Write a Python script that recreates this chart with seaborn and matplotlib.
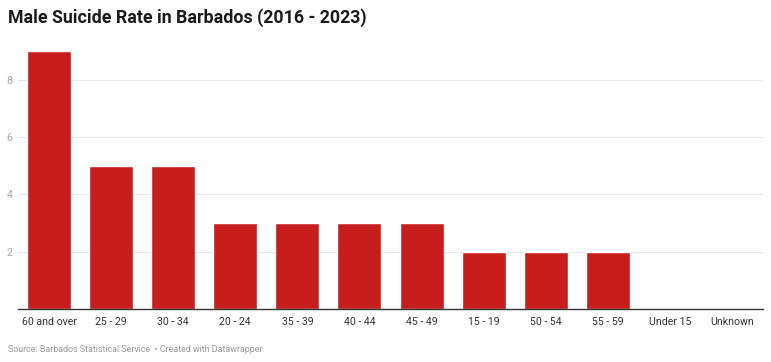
import matplotlib
matplotlib.use('Agg')
import matplotlib.pyplot as plt
import pandas as pd
import seaborn as sns

categories = ['60 and over', '25 - 29', '30 - 34', '20 - 24', '35 - 39', '40 - 44',
              '45 - 49', '15 - 19', '50 - 54', '55 - 59', 'Under 15', 'Unknown']
values = [9, 5, 5, 3, 3, 3, 3, 2, 2, 2, 0, 0]

df = pd.DataFrame({'age': categories, 'count': values})

sns.set_theme(style='white')
plt.rcParams['font.family'] = ['Roboto', 'DejaVu Sans']

fig = plt.figure(figsize=(7.71, 3.62), dpi=100)
ax = fig.add_axes([18 / 771, 1 - 309 / 362, 745 / 771, 258 / 362])

sns.barplot(data=df, x='age', y='count', color='#c71e1d', saturation=1,
            width=0.71, ax=ax, zorder=3)

ax.set_xlim(-0.5, 11.5)
ax.set_ylim(0, 9)
ax.set_yticks([2, 4, 6, 8])
ax.yaxis.grid(True, color='#e8e8e8', linewidth=0.8, zorder=0)
ax.set_xlabel('')
ax.set_ylabel('')
for side in ['top', 'right', 'left']:
    ax.spines[side].set_visible(False)
ax.spines['bottom'].set_color('#333333')
ax.spines['bottom'].set_linewidth(1)
ax.spines['bottom'].set_zorder(4)
ax.tick_params(axis='x', length=0, pad=6, labelsize=7.6, labelcolor='#333333')
ax.tick_params(axis='y', length=0, pad=4, labelsize=7.6, labelcolor='#aaaaaa')

fig.text(8 / 771, 1 - 18 / 362, 'Male Suicide Rate in Barbados (2016 - 2023)',
         fontsize=12.8, fontweight='bold', color='#1a1a1a', va='center', ha='left')
fig.text(8 / 771, 1 - 349 / 362,
         'Source: Barbados Statistical Service  \u2022 Created with Datawrapper',
         fontsize=6.4, color='#999999', va='center', ha='left')

fig.savefig('out.png', dpi=100)
